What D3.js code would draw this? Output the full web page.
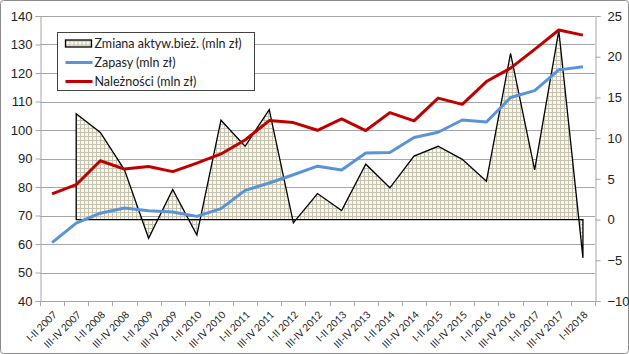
<!DOCTYPE html>
<html>
<head>
<meta charset="utf-8">
<script src="https://cdn.jsdelivr.net/npm/d3@7"></script>
<style>
  body { margin: 0; background: #fff; }
  svg { display: block; font-family: Lato, "Open Sans", sans-serif; }
</style>
</head>
<body>
<svg id="chart"></svg>
<script>
// categories (half-year periods)
var periods = ["I-II 2007", "III-IV 2007", "I-II 2008", "III-IV 2008", "I-II 2009", "III-IV 2009",
  "I-II 2010", "III-IV 2010", "I-II 2011", "III-IV 2011", "I-II 2012", "III-IV 2012",
  "I-II 2013", "III-IV 2013", "I-II 2014", "III-IV 2014", "I-II 2015", "III-IV 2015",
  "I-II 2016", "III-IV 2016", "I-II 2017", "III-IV 2017", "I-II2018"];

// Zapasy (mln zł) - left axis
var zapasy = [60.5, 67.3, 70.8, 72.6, 71.7, 71.2, 69.7, 72.4, 78.8, 81.4, 84.3, 87.3,
  86.0, 91.9, 92.1, 97.4, 99.2, 103.5, 102.8, 111.4, 113.8, 121.1, 122.2];

// Należności (mln zł) - left axis
var naleznosci = [77.6, 80.8, 89.2, 86.3, 87.2, 85.4, 88.4, 91.6, 96.5, 103.3, 102.6, 99.9,
  103.9, 99.8, 106.1, 103.2, 111.2, 109.0, 117.0, 121.7, 128.3, 135.1, 133.3];

// Zmiana aktyw.bież. (mln zł) - right axis, no value for first period
var zmiana = [null, 13.0, 10.7, 6.1, -2.3, 3.7, -1.9, 12.2, 9.0, 13.5, -0.4, 3.2,
  1.1, 6.8, 3.9, 7.8, 9.0, 7.4, 4.7, 20.4, 6.1, 23.2, -4.7];

var leftTicks = [40, 50, 60, 70, 80, 90, 100, 110, 120, 130, 140];
var rightTicks = [-10, -5, 0, 5, 10, 15, 20, 25];

var width = 629, height = 354;
var plot = { left: 40, right: 595, top: 16, bottom: 301 };

var svg = d3.select("#chart").attr("width", width).attr("height", height);

// outer frame
svg.append("rect")
  .attr("x", 0.5).attr("y", 0.5)
  .attr("width", width - 1).attr("height", height - 1)
  .attr("rx", 3)
  .attr("fill", "#fff")
  .attr("stroke", "#8c8c8c");

// grid pattern for the area series
var defs = svg.append("defs");
var pat = defs.append("pattern")
  .attr("id", "grid")
  .attr("patternUnits", "userSpaceOnUse")
  .attr("width", 4).attr("height", 4);
pat.append("rect").attr("width", 4).attr("height", 4).attr("fill", "#fbf8ea");
pat.append("path").attr("d", "M0,0.5H4M0.5,0V4").attr("stroke", "#c6c2b2").attr("stroke-width", 1);

// scales
var x = d3.scalePoint()
  .domain(periods)
  .range([plot.left, plot.right])
  .padding(0.5);

var yL = d3.scaleLinear().domain([40, 140]).range([plot.bottom, plot.top]);
var yR = d3.scaleLinear().domain([-10, 25]).range([plot.bottom, plot.top]);

// horizontal gridlines
svg.append("g")
  .selectAll("line")
  .data(leftTicks)
  .join("line")
  .attr("x1", plot.left).attr("x2", plot.right)
  .attr("y1", function (d) { return Math.round(yL(d)) + 0.5; })
  .attr("y2", function (d) { return Math.round(yL(d)) + 0.5; })
  .attr("stroke", "#a6a6a6");

// left axis
var gL = svg.append("g")
  .attr("transform", "translate(" + (plot.left + 0.5) + ",0)")
  .call(d3.axisLeft(yL).tickValues(leftTicks).tickSize(5).tickPadding(3));
gL.selectAll("text").attr("font-size", 13).attr("fill", "#222");

// right axis
var gR = svg.append("g")
  .attr("transform", "translate(" + (plot.right + 0.5) + ",0)")
  .call(d3.axisRight(yR).tickValues(rightTicks).tickSize(5).tickPadding(7));
gR.selectAll("text").attr("font-size", 13).attr("fill", "#222");

// bottom axis, ticks on category boundaries
var step = x.step();
var gB = svg.append("g");
gB.append("line")
  .attr("x1", plot.left).attr("x2", plot.right)
  .attr("y1", plot.bottom + 0.5).attr("y2", plot.bottom + 0.5)
  .attr("stroke", "#a6a6a6");
gB.selectAll(".tk")
  .data(d3.range(periods.length + 1))
  .join("line")
  .attr("class", "tk")
  .attr("x1", function (i) { return Math.round(plot.left + i * step) + 0.5; })
  .attr("x2", function (i) { return Math.round(plot.left + i * step) + 0.5; })
  .attr("y1", plot.bottom).attr("y2", plot.bottom + 5)
  .attr("stroke", "#a6a6a6");
gB.selectAll(".lbl")
  .data(periods)
  .join("text")
  .attr("class", "lbl")
  .attr("transform", function (d) { return "translate(" + (x(d) + 3) + "," + (plot.bottom + 12) + ") rotate(-45)"; })
  .attr("text-anchor", "end")
  .attr("dy", "0.35em")
  .attr("font-size", 10)
  .attr("fill", "#222")
  .text(function (d) { return d; });

[gL, gR].forEach(function (g) {
  g.selectAll("path.domain").attr("stroke", "#a6a6a6");
  g.selectAll(".tick line").attr("stroke", "#a6a6a6");
});

// area series (right axis)
var areaData = periods.map(function (p, i) { return { p: p, v: zmiana[i] }; })
  .filter(function (d) { return d.v !== null; });

var area = d3.area()
  .x(function (d) { return x(d.p); })
  .y0(yR(0))
  .y1(function (d) { return yR(d.v); });

svg.append("path")
  .datum(areaData)
  .attr("d", function (d) { return area(d) + "Z"; })
  .attr("fill", "url(#grid)")
  .attr("stroke", "#000")
  .attr("stroke-width", 1.3)
  .attr("stroke-linejoin", "miter");

// line series (left axis)
var line = d3.line()
  .x(function (d, i) { return x(periods[i]); })
  .y(function (d) { return yL(d); });

svg.append("path")
  .datum(zapasy)
  .attr("d", line)
  .attr("fill", "none")
  .attr("stroke", "#5b93d8")
  .attr("stroke-width", 3)
  .attr("stroke-linejoin", "round");

svg.append("path")
  .datum(naleznosci)
  .attr("d", line)
  .attr("fill", "none")
  .attr("stroke", "#c00000")
  .attr("stroke-width", 3)
  .attr("stroke-linejoin", "round");

// legend
var legend = svg.append("g").attr("transform", "translate(57.5,32.5)");
legend.append("rect")
  .attr("width", 197).attr("height", 58)
  .attr("fill", "#fff").attr("stroke", "#444");

var legendItems = [
  { name: "Zmiana aktyw.bież. (mln zł)", type: "area" },
  { name: "Zapasy (mln zł)", type: "line", color: "#5b93d8" },
  { name: "Należności (mln zł)", type: "line", color: "#c00000" }
];

legendItems.forEach(function (d, i) {
  var cy = 11 + i * 19;
  if (d.type === "area") {
    legend.append("rect")
      .attr("x", 8).attr("y", cy - 3.5)
      .attr("width", 26).attr("height", 7)
      .attr("fill", "url(#grid)").attr("stroke", "#000").attr("stroke-width", 1.3);
  } else {
    legend.append("line")
      .attr("x1", 8).attr("x2", 35)
      .attr("y1", cy).attr("y2", cy)
      .attr("stroke", d.color).attr("stroke-width", 3);
  }
  legend.append("text")
    .attr("x", 37).attr("y", cy)
    .attr("dy", "0.35em")
    .attr("font-size", 12.5)
    .attr("fill", "#222")
    .text(d.name);
});
</script>
</body>
</html>
